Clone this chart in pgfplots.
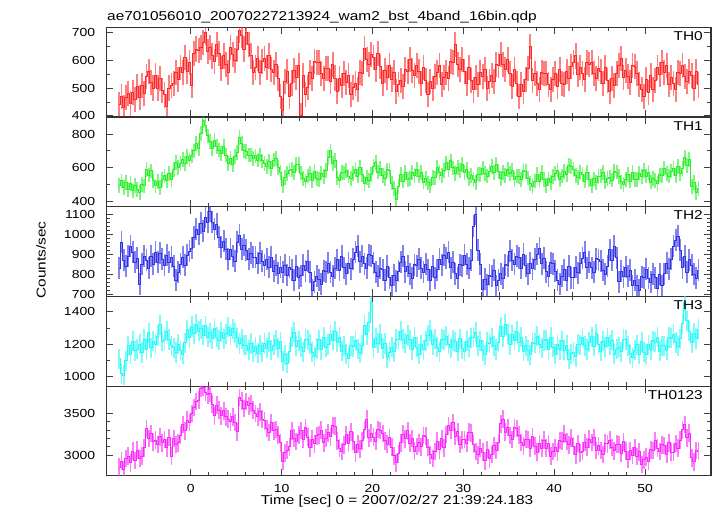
\documentclass[border=0pt]{standalone}
\usepackage{fontspec}
\setmainfont{Liberation Sans}[FakeStretch=1.2]
\newfontfamily\lab{Liberation Sans}[FakeStretch=1.2, Scale=1.29]
\newfontfamily\tlab{Liberation Sans}[FakeStretch=1.2, Scale=1.17]
\usepackage{pgfplots}
\usepackage{pgfplotstable}
\pgfplotsset{compat=1.18}
\definecolor{cA}{RGB}{255,40,40}
\definecolor{cB}{RGB}{40,240,40}
\definecolor{cC}{RGB}{50,50,230}
\definecolor{cD}{RGB}{40,250,250}
\definecolor{cE}{RGB}{250,40,250}
\pgfplotstableread{
t A B C D E
-7.875 440 495 830 1110 2860
-7.625 470 520 960 1020 2930
-7.375 430 480 870 1010 2830
-7.125 465 510 840 1100 2960
-6.875 480 470 890 1190 2990
-6.625 445 505 940 1140 2910
-6.375 485 460 910 1220 3050
-6.125 460 495 860 1160 2940
-5.875 505 470 880 1170 3060
-5.625 465 450 750 1200 2960
-5.375 510 500 850 1150 2990
-5.125 480 490 890 1230 3090
-4.875 540 590 870 1170 3320
-4.625 560 555 830 1270 3200
-4.375 520 580 890 1180 3260
-4.125 500 520 850 1220 3160
-3.875 545 490 910 1200 3180
-3.625 500 515 860 1250 3130
-3.375 535 480 905 1320 3220
-3.125 490 530 875 1220 3150
-2.875 475 550 845 1230 3190
-2.625 435 520 895 1280 3090
-2.375 500 565 860 1230 3210
-2.125 510 530 885 1190 2990
-1.875 515 590 840 1180 3200
-1.625 555 630 770 1150 3130
-1.375 530 600 810 1200 3150
-1.125 575 625 850 1160 3240
-0.875 555 650 885 1140 3370
-0.625 610 625 845 1210 3290
-0.375 560 665 895 1290 3420
-0.125 590 645 915 1240 3390
0.125 510 670 930 1310 3500
0.375 625 700 985 1265 3570
0.625 640 745 1025 1325 3640
0.875 635 715 1000 1280 3660
1.125 645 805 1055 1295 3800
1.375 665 880 1015 1255 3810
1.625 700 855 1085 1315 3750
1.875 630 790 1060 1245 3720
2.125 645 755 1115 1270 3740
2.375 615 715 1060 1235 3610
2.625 595 765 1025 1295 3470
2.875 655 725 1050 1245 3600
3.125 625 705 985 1225 3540
3.375 570 685 935 1275 3470
3.625 615 725 965 1235 3530
3.875 585 675 925 1265 3460
4.125 555 625 875 1305 3430
4.375 645 655 925 1255 3400
4.625 620 620 890 1295 3460
4.875 600 665 865 1270 3390
5.125 640 690 960 1240 3280
5.375 705 780 995 1205 3690
5.625 690 745 925 1235 3650
5.875 640 700 945 1195 3560
6.125 700 695 920 1195 3640
6.375 655 675 875 1165 3590
6.625 615 675 905 1205 3620
6.875 555 655 885 1155 3540
7.125 575 670 885 1185 3500
7.375 605 645 855 1145 3460
7.625 555 675 905 1195 3520
7.875 595 640 865 1155 3430
8.125 605 625 845 1205 3410
8.375 575 605 875 1175 3320
8.625 615 635 835 1215 3270
8.875 565 595 885 1165 3390
9.125 555 645 815 1195 3290
9.375 585 655 845 1225 3310
9.625 535 600 805 1175 3240
9.875 470 570 835 1215 3150
10.125 420 490 810 1095 2930
10.375 525 540 845 1135 3030
10.625 560 565 795 1085 3060
10.875 470 585 835 1155 3100
11.125 518 588 824 1244 3292
11.375 564 570 772 1275 3204
11.625 539 621 840 1189 3164
11.875 582 618 784 1221 3244
12.125 400 567 794 1182 3298
12.375 545 534 846 1155 3194
12.625 478 519 818 1232 3330
12.875 503 549 866 1227 3218
13.125 556 563 812 1201 3088
13.375 535 524 720 1151 3192
13.625 595 575 764 1128 3136
13.875 591 533 792 1174 3232
14.125 592 528 774 1227 3244
14.375 553 567 750 1168 3300
14.625 535 546 818 1245 3148
14.875 571 582 814 1182 3204
15.125 571 659 856 1199 3268
15.375 525 700 812 1258 3220
15.625 585 623 792 1226 3356
15.875 536 644 832 1281 3348
16.125 488 538 874 1214 3172
16.375 534 520 822 1245 3084
16.625 509 571 890 1159 3044
16.875 552 568 834 1191 3124
17.125 521 582 804 1142 3248
17.375 545 549 856 1115 3144
17.625 478 534 828 1192 3280
17.875 503 564 876 1187 3168
18.125 516 588 912 1221 3028
18.375 495 549 940 1171 3132
18.625 555 600 864 1148 3076
18.875 551 558 892 1194 3172
19.125 642 503 854 1317 3304
19.375 603 542 830 1258 3430
19.625 585 521 898 1335 3208
19.875 621 557 894 1460 3264
20.125 611 609 856 1179 3218
20.375 565 630 812 1238 3170
20.625 625 573 792 1206 3306
20.875 576 594 832 1261 3298
21.125 518 553 824 1174 3262
21.375 564 535 772 1205 3174
21.625 539 586 840 1119 3134
21.875 582 583 784 1151 3214
22.125 531 507 744 1182 3098
22.375 555 474 796 1155 2994
22.625 488 410 768 1232 2910
22.875 513 489 816 1227 3018
23.125 526 558 862 1281 3148
23.375 505 519 890 1231 3252
23.625 565 570 814 1208 3196
23.875 561 528 842 1254 3292
24.125 602 533 804 1227 3144
24.375 563 572 780 1168 3200
24.625 545 551 848 1245 3048
24.875 581 587 844 1182 3104
25.125 561 549 876 1139 3148
25.375 515 570 832 1198 3100
25.625 575 513 812 1166 3236
25.875 526 534 852 1221 3228
26.125 478 508 824 1254 3092
26.375 524 490 772 1285 3004
26.625 499 541 840 1199 2964
26.875 542 538 784 1231 3044
27.125 556 602 824 1182 3168
27.375 580 569 876 1155 3064
27.625 513 554 848 1232 3200
27.875 538 584 896 1227 3088
28.125 556 628 882 1251 3248
28.375 535 589 910 1201 3352
28.625 595 640 834 1178 3296
28.875 591 598 862 1224 3392
29.125 655 563 804 1217 3224
29.375 583 602 780 1158 3280
29.625 565 581 848 1235 3128
29.875 601 617 844 1172 3184
30.125 561 569 896 1159 3188
30.375 515 590 852 1218 3140
30.625 575 533 832 1186 3276
30.875 526 554 872 1241 3268
31.125 493 528 1040 1244 3132
31.375 539 510 1100 1275 3044
31.625 514 561 920 1189 3004
31.875 557 558 850 1221 3084
32.125 541 597 724 1162 3038
32.375 565 564 776 1135 2934
32.625 498 549 748 1212 3070
32.875 523 579 796 1207 2958
33.125 546 608 792 1241 3008
33.375 525 569 820 1191 3112
33.625 585 620 744 1168 3056
33.875 581 578 772 1214 3152
34.125 622 533 804 1307 3374
34.375 583 572 780 1248 3430
34.625 565 551 848 1325 3278
34.875 601 587 844 1262 3334
35.125 551 564 916 1199 3238
35.375 505 585 872 1258 3190
35.625 565 528 852 1226 3326
35.875 516 549 892 1281 3318
36.125 468 548 884 1214 3242
36.375 514 530 832 1245 3154
36.625 489 581 900 1159 3114
36.875 532 578 844 1191 3194
37.125 571 537 804 1162 3188
37.375 650 504 856 1135 3084
37.625 528 489 828 1212 3220
37.875 553 519 876 1207 3108
38.125 516 558 902 1251 3038
38.375 495 519 930 1201 3142
38.625 555 570 854 1178 3086
38.875 551 528 882 1224 3182
39.125 552 493 814 1227 3084
39.375 513 532 790 1168 3140
39.625 495 511 858 1245 2988
39.875 531 547 854 1182 3044
40.125 551 564 816 1139 3088
40.375 505 585 772 1198 3040
40.625 565 528 752 1166 3176
40.875 516 549 792 1221 3168
41.125 513 578 824 1164 3252
41.375 559 560 772 1195 3164
41.625 534 611 840 1109 3124
41.875 577 608 784 1141 3204
42.125 591 587 784 1152 3108
42.375 615 554 836 1125 3004
42.625 548 539 808 1202 3140
42.875 573 569 856 1197 3028
43.125 551 558 882 1241 3048
43.375 530 519 910 1191 3152
43.625 590 570 834 1168 3096
43.875 586 528 862 1214 3192
44.125 592 493 834 1247 3154
44.375 553 532 810 1188 3210
44.625 535 511 878 1265 3058
44.875 571 547 874 1202 3114
45.125 561 549 866 1159 3058
45.375 515 570 822 1218 3010
45.625 575 513 802 1186 3146
45.875 526 534 842 1241 3138
46.125 488 543 924 1194 3182
46.375 534 525 872 1225 3094
46.625 509 576 940 1139 3054
46.875 552 573 884 1171 3134
47.125 581 547 764 1182 3128
47.375 605 514 816 1155 3024
47.625 538 499 788 1232 3160
47.875 563 529 836 1227 3048
48.125 541 558 792 1191 2948
48.375 520 519 820 1141 3052
48.625 580 570 744 1118 2996
48.875 576 528 772 1164 3092
49.125 552 528 744 1197 2984
49.375 513 567 720 1138 3040
49.625 495 546 788 1215 2888
49.875 470 582 784 1152 2944
50.125 531 549 826 1139 2978
50.375 485 570 782 1198 2930
50.625 545 513 762 1166 3066
50.875 496 534 802 1221 3058
51.125 528 523 784 1214 3172
51.375 574 505 732 1245 3084
51.625 549 556 800 1159 3044
51.875 592 553 744 1191 3124
52.125 556 597 804 1192 3118
52.375 580 564 856 1165 3014
52.625 513 549 828 1242 3150
52.875 538 579 876 1237 3038
53.125 516 593 942 1261 3038
53.375 495 554 970 1211 3142
53.625 555 605 990 1188 3086
53.875 551 563 922 1234 3182
54.125 582 593 834 1327 3304
54.375 543 660 890 1460 3370
54.625 525 611 810 1345 3208
54.875 561 647 874 1282 3264
55.125 546 489 846 1209 2968
55.375 500 510 802 1268 2920
55.625 560 453 782 1236 3056
55.875 511 474 822 1291 3048
}\datatable

\pgfplotsset{
  panel/.style={
    scale only axis, width=604.7bp, height=89.7bp,
    xmin=-9.29, xmax=57.26,
    xtick={0,10,20,30,40,50}, minor x tick num=4,
    tick align=inside,
    major tick length=7bp, minor tick length=4bp,
    axis line style={line width=1.2bp, black!80},
    every tick/.style={black!75, line width=0.9bp},
    every minor tick/.style={black!75, line width=0.9bp},
    xticklabel=\empty,
    tick label style={font=\tlab},
    yticklabel style={inner sep=0pt, xshift=-11bp},
    xticklabel style={inner sep=0pt, yshift=-8bp},
    /pgf/number format/assume math mode=true,
    /pgf/number format/set thousands separator={},
    clip=true,
  },
  dat/.style={const plot mark mid, line width=1bp, no marks,
    error bars/.cd, y dir=both, y fixed=#1, error mark=none,
    error bar style={line width=1.8bp, opacity=0.6}},
}

\begin{document}
\begin{tikzpicture}
\path[use as bounding box] (0,0) rectangle (717bp,-516bp);

\node[anchor=base west, inner sep=0pt, font=\lab] at (107bp,-20bp) {ae701056010\_20070227213924\_wam2\_bst\_4band\_16bin.qdp};

\begin{axis}[panel, at={(106.3bp,-27.3bp)}, anchor=north west,
  ymin=396, ymax=718, ytick={400,500,600,700}, minor y tick num=1]
\addplot[color=cA, dat=45] table[x=t, y=A] {\datatable};
\node[anchor=north east, inner sep=0pt, font=\lab] at (rel axis cs:1,1) [xshift=-8bp, yshift=-4bp] {TH0};
\end{axis}

\begin{axis}[panel, at={(106.3bp,-117bp)}, anchor=north west,
  ymin=366, ymax=903, ytick={400,600,800}, minor y tick num=1]
\addplot[color=cB, dat=44] table[x=t, y=B] {\datatable};
\node[anchor=north east, inner sep=0pt, font=\lab] at (rel axis cs:1,1) [xshift=-8bp, yshift=-4bp] {TH1};
\end{axis}

\begin{axis}[panel, at={(106.3bp,-206.7bp)}, anchor=north west,
  ymin=690, ymax=1139, ytick={700,800,900,1000,1100}, minor y tick num=4]
\addplot[color=cC, dat=55] table[x=t, y=C] {\datatable};
\node[anchor=north east, inner sep=0pt, font=\lab] at (rel axis cs:1,1) [xshift=-8bp, yshift=-4bp] {TH2};
\end{axis}

\begin{axis}[panel, at={(106.3bp,-296.4bp)}, anchor=north west,
  ymin=943, ymax=1495, ytick={1000,1200,1400}, minor y tick num=1]
\addplot[color=cD, dat=62] table[x=t, y=D] {\datatable};
\node[anchor=north east, inner sep=0pt, font=\lab] at (rel axis cs:1,1) [xshift=-8bp, yshift=-4bp] {TH3};
\end{axis}

\begin{axis}[panel, at={(106.3bp,-386.1bp)}, anchor=north west,
  ymin=2755, ymax=3826, ytick={3000,3500}, minor y tick num=4,
  xticklabel={\pgfmathprintnumber{\tick}}]
\addplot[color=cE, dat=105] table[x=t, y=E] {\datatable};
\node[anchor=north east, inner sep=0pt, font=\lab] at (rel axis cs:1,1) [xshift=-8bp, yshift=-4bp] {TH0123};
\end{axis}

\node[inner sep=0pt, font=\lab] at (397bp,-501bp) {Time [sec] 0 = 2007/02/27 21:39:24.183};
\node[rotate=90, inner sep=0pt, font=\lab] at (41bp,-260bp) {Counts/sec};
\end{tikzpicture}
\end{document}
